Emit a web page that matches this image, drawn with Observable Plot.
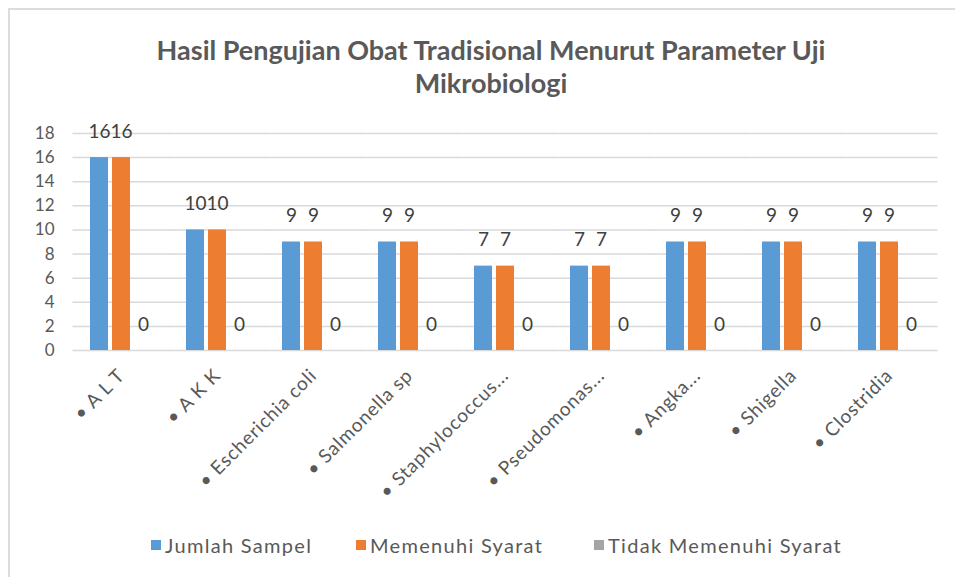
<!DOCTYPE html>
<html>
<head>
<meta charset="utf-8">
<script src="https://cdn.jsdelivr.net/npm/d3@7"></script>
<script src="https://cdn.jsdelivr.net/npm/@observablehq/plot@0.6"></script>
<style>
  html, body { margin: 0; padding: 0; background: #fff; }
  body { width: 955px; height: 577px; position: relative; overflow: hidden; font-family: Lato, "Open Sans", sans-serif; }
  #frame { position: absolute; left: 8px; top: 8px; width: 960px; height: 580px; border-left: 2px solid #dcdcdc; border-top: 2px solid #dcdcdc; box-sizing: border-box; }
  #title { position: absolute; left: 0; width: 982px; top: 33px; text-align: center; font-weight: bold; font-size: 27px; line-height: 33px; color: #595959; }
  #chart { position: absolute; left: 0; top: 100px; }
  #chart svg { overflow: visible; }
  #chart g[aria-label="fx-axis tick label"] { letter-spacing: 0.8px; }
  #legend { position: absolute; top: 533px; left: 0; width: 955px; font-size: 20px; letter-spacing: 1.3px; color: #595959; }
  .item { position: absolute; display: flex; align-items: center; white-space: nowrap; }
  .sw { width: 10px; height: 10px; margin-right: 4px; }
</style>
</head>
<body>
<div id="frame"></div>
<div id="title">Hasil Pengujian Obat Tradisional Menurut Parameter Uji<br>Mikrobiologi</div>
<div id="chart"></div>
<div id="legend"></div>
<script>
const categories = ["• A L T", "• A K K", "• Escherichia coli", "• Salmonella sp", "• Staphylococcus...", "• Pseudomonas...", "• Angka...", "• Shigella", "• Clostridia"];
const seriesNames = ["Jumlah Sampel", "Memenuhi Syarat", "Tidak Memenuhi Syarat"];
const seriesColors = ["#5B9BD5", "#ED7D31", "#A5A5A5"];
const jumlahSampel = [16, 10, 9, 9, 7, 7, 9, 9, 9];
const memenuhiSyarat = [16, 10, 9, 9, 7, 7, 9, 9, 9];
const tidakMemenuhiSyarat = [0, 0, 0, 0, 0, 0, 0, 0, 0];
const yTicks = [0, 2, 4, 6, 8, 10, 12, 14, 16, 18];

const seriesValues = [jumlahSampel, memenuhiSyarat, tidakMemenuhiSyarat];
const data = [];
categories.forEach((c, i) => {
  seriesNames.forEach((s, j) => data.push({cat: c, series: s, value: seriesValues[j][i]}));
});

const chart = Plot.plot({
  width: 955,
  height: 420,
  marginTop: 33,
  marginBottom: 170,
  marginLeft: 70,
  marginRight: 15,
  style: {fontFamily: "Lato, 'Open Sans', sans-serif", fontSize: "17px", color: "#595959", background: "transparent"},
  fx: {domain: categories, paddingInner: 0.33, paddingOuter: 0.165, label: null},
  x: {domain: seriesNames, paddingInner: 0.17, paddingOuter: 0.02, axis: null},
  y: {domain: [0, 18], label: null},
  color: {domain: seriesNames, range: seriesColors},
  marks: [
    Plot.ruleY(yTicks, {stroke: "#d9d9d9", strokeWidth: 1.5, insetLeft: -16.5, insetRight: -16.5}),
    Plot.axisY(yTicks, {anchor: "left", tickSize: 0, tickPadding: 35, fontSize: 17, fill: "#595959", label: null}),
    Plot.axisFx({anchor: "bottom", tickRotate: -45, tickSize: 0, tickPadding: 22, fontSize: 19, fill: "#595959", label: null}),
    Plot.barY(data, {fx: "cat", x: "series", y: "value", fill: "series"}),
    Plot.text(data, {fx: "cat", x: "series", y: "value", text: d => String(d.value), dy: -26, fill: "#404040", fontSize: 19})
  ]
});
document.getElementById("chart").appendChild(chart);

const legend = document.getElementById("legend");
const lefts = [151, 356, 594];
seriesNames.forEach((s, j) => {
  const it = document.createElement("div");
  it.className = "item";
  it.style.left = lefts[j] + "px";
  it.innerHTML = `<span class="sw" style="background:${seriesColors[j]}"></span><span>${s}</span>`;
  legend.appendChild(it);
});
</script>
</body>
</html>
